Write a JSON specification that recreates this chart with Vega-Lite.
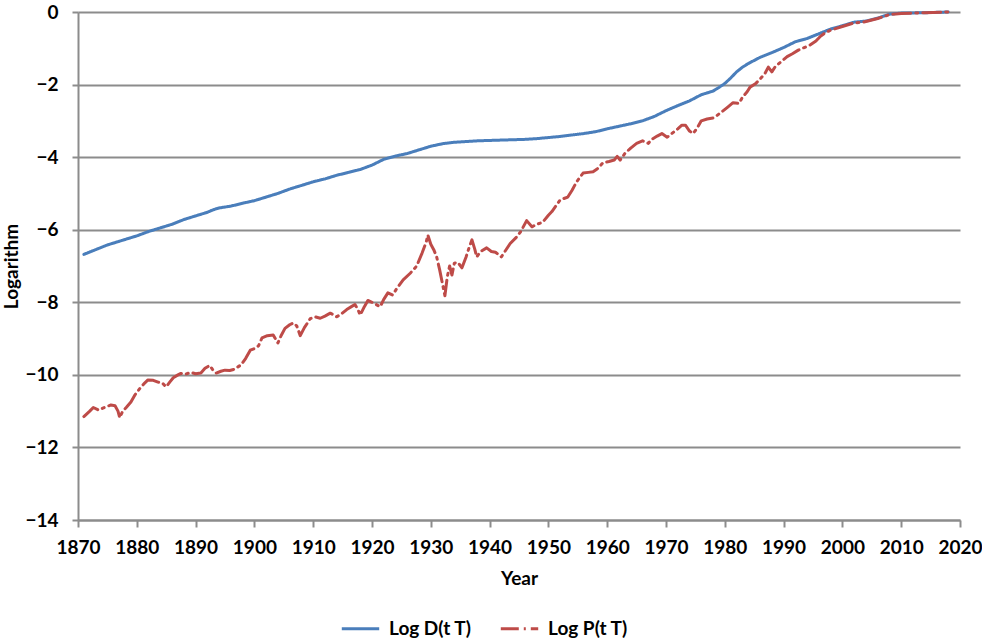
{
  "$schema": "https://vega.github.io/schema/vega-lite/v6.json",
  "width": 882,
  "height": 508,
  "autosize": {"type": "none"},
  "padding": {"left": 78, "top": 12, "right": 22, "bottom": 122},
  "background": "white",
  "config": {
    "view": {"stroke": null},
    "font": "Lato",
    "axis": {
      "labelFont": "Lato", "labelFontWeight": "bold", "labelFontSize": 19, "labelColor": "#000000",
      "titleFont": "Lato", "titleFontWeight": "bold", "titleFontSize": 19, "titleColor": "#000000",
      "domainColor": "#8c8c8c", "domainWidth": 2, "tickColor": "#8c8c8c", "tickWidth": 2,
      "gridColor": "#8c8c8c", "gridWidth": 2
    }
  },
  "datasets": {
    "pts": [
      {"year": 1871, "value": -6.68, "series": "Log D(t T)"},
      {"year": 1873, "value": -6.55, "series": "Log D(t T)"},
      {"year": 1875, "value": -6.42, "series": "Log D(t T)"},
      {"year": 1878, "value": -6.27, "series": "Log D(t T)"},
      {"year": 1880, "value": -6.17, "series": "Log D(t T)"},
      {"year": 1882, "value": -6.05, "series": "Log D(t T)"},
      {"year": 1884, "value": -5.95, "series": "Log D(t T)"},
      {"year": 1886, "value": -5.85, "series": "Log D(t T)"},
      {"year": 1888, "value": -5.72, "series": "Log D(t T)"},
      {"year": 1890, "value": -5.62, "series": "Log D(t T)"},
      {"year": 1892, "value": -5.52, "series": "Log D(t T)"},
      {"year": 1893, "value": -5.45, "series": "Log D(t T)"},
      {"year": 1894, "value": -5.4, "series": "Log D(t T)"},
      {"year": 1896, "value": -5.35, "series": "Log D(t T)"},
      {"year": 1898, "value": -5.27, "series": "Log D(t T)"},
      {"year": 1900, "value": -5.2, "series": "Log D(t T)"},
      {"year": 1902, "value": -5.1, "series": "Log D(t T)"},
      {"year": 1904, "value": -5.0, "series": "Log D(t T)"},
      {"year": 1906, "value": -4.88, "series": "Log D(t T)"},
      {"year": 1908, "value": -4.78, "series": "Log D(t T)"},
      {"year": 1910, "value": -4.68, "series": "Log D(t T)"},
      {"year": 1912, "value": -4.6, "series": "Log D(t T)"},
      {"year": 1914, "value": -4.5, "series": "Log D(t T)"},
      {"year": 1916, "value": -4.42, "series": "Log D(t T)"},
      {"year": 1918, "value": -4.34, "series": "Log D(t T)"},
      {"year": 1920, "value": -4.22, "series": "Log D(t T)"},
      {"year": 1922, "value": -4.06, "series": "Log D(t T)"},
      {"year": 1924, "value": -3.97, "series": "Log D(t T)"},
      {"year": 1926, "value": -3.9, "series": "Log D(t T)"},
      {"year": 1928, "value": -3.8, "series": "Log D(t T)"},
      {"year": 1930, "value": -3.7, "series": "Log D(t T)"},
      {"year": 1932, "value": -3.63, "series": "Log D(t T)"},
      {"year": 1934, "value": -3.59, "series": "Log D(t T)"},
      {"year": 1936, "value": -3.57, "series": "Log D(t T)"},
      {"year": 1938, "value": -3.55, "series": "Log D(t T)"},
      {"year": 1940, "value": -3.54, "series": "Log D(t T)"},
      {"year": 1942, "value": -3.53, "series": "Log D(t T)"},
      {"year": 1944, "value": -3.52, "series": "Log D(t T)"},
      {"year": 1946, "value": -3.51, "series": "Log D(t T)"},
      {"year": 1948, "value": -3.49, "series": "Log D(t T)"},
      {"year": 1950, "value": -3.46, "series": "Log D(t T)"},
      {"year": 1952, "value": -3.43, "series": "Log D(t T)"},
      {"year": 1954, "value": -3.39, "series": "Log D(t T)"},
      {"year": 1956, "value": -3.35, "series": "Log D(t T)"},
      {"year": 1958, "value": -3.3, "series": "Log D(t T)"},
      {"year": 1960, "value": -3.22, "series": "Log D(t T)"},
      {"year": 1962, "value": -3.15, "series": "Log D(t T)"},
      {"year": 1964, "value": -3.08, "series": "Log D(t T)"},
      {"year": 1966, "value": -3.0, "series": "Log D(t T)"},
      {"year": 1968, "value": -2.88, "series": "Log D(t T)"},
      {"year": 1970, "value": -2.72, "series": "Log D(t T)"},
      {"year": 1972, "value": -2.58, "series": "Log D(t T)"},
      {"year": 1974, "value": -2.45, "series": "Log D(t T)"},
      {"year": 1976, "value": -2.28, "series": "Log D(t T)"},
      {"year": 1978, "value": -2.18, "series": "Log D(t T)"},
      {"year": 1979, "value": -2.08, "series": "Log D(t T)"},
      {"year": 1980, "value": -1.97, "series": "Log D(t T)"},
      {"year": 1981, "value": -1.82, "series": "Log D(t T)"},
      {"year": 1982, "value": -1.65, "series": "Log D(t T)"},
      {"year": 1983, "value": -1.52, "series": "Log D(t T)"},
      {"year": 1984, "value": -1.42, "series": "Log D(t T)"},
      {"year": 1986, "value": -1.25, "series": "Log D(t T)"},
      {"year": 1988, "value": -1.12, "series": "Log D(t T)"},
      {"year": 1990, "value": -0.98, "series": "Log D(t T)"},
      {"year": 1992, "value": -0.82, "series": "Log D(t T)"},
      {"year": 1994, "value": -0.73, "series": "Log D(t T)"},
      {"year": 1996, "value": -0.6, "series": "Log D(t T)"},
      {"year": 1998, "value": -0.47, "series": "Log D(t T)"},
      {"year": 2000, "value": -0.38, "series": "Log D(t T)"},
      {"year": 2002, "value": -0.28, "series": "Log D(t T)"},
      {"year": 2004, "value": -0.25, "series": "Log D(t T)"},
      {"year": 2006, "value": -0.17, "series": "Log D(t T)"},
      {"year": 2008, "value": -0.06, "series": "Log D(t T)"},
      {"year": 2010, "value": -0.03, "series": "Log D(t T)"},
      {"year": 2014, "value": -0.02, "series": "Log D(t T)"},
      {"year": 2018, "value": 0, "series": "Log D(t T)"},

      {"year": 1871, "value": -11.15, "series": "Log P(t T)"},
      {"year": 1872, "value": -11.0, "series": "Log P(t T)"},
      {"year": 1872.6, "value": -10.9, "series": "Log P(t T)"},
      {"year": 1873.5, "value": -10.97, "series": "Log P(t T)"},
      {"year": 1874.5, "value": -10.9, "series": "Log P(t T)"},
      {"year": 1875.6, "value": -10.83, "series": "Log P(t T)"},
      {"year": 1876.3, "value": -10.85, "series": "Log P(t T)"},
      {"year": 1876.8, "value": -11.0, "series": "Log P(t T)"},
      {"year": 1877.1, "value": -11.18, "series": "Log P(t T)"},
      {"year": 1877.6, "value": -11.0, "series": "Log P(t T)"},
      {"year": 1878.2, "value": -10.9, "series": "Log P(t T)"},
      {"year": 1879, "value": -10.75, "series": "Log P(t T)"},
      {"year": 1879.7, "value": -10.55, "series": "Log P(t T)"},
      {"year": 1880.5, "value": -10.38, "series": "Log P(t T)"},
      {"year": 1881.2, "value": -10.25, "series": "Log P(t T)"},
      {"year": 1881.9, "value": -10.14, "series": "Log P(t T)"},
      {"year": 1882.8, "value": -10.15, "series": "Log P(t T)"},
      {"year": 1883.6, "value": -10.2, "series": "Log P(t T)"},
      {"year": 1884.3, "value": -10.22, "series": "Log P(t T)"},
      {"year": 1885, "value": -10.33, "series": "Log P(t T)"},
      {"year": 1885.6, "value": -10.2, "series": "Log P(t T)"},
      {"year": 1886.2, "value": -10.08, "series": "Log P(t T)"},
      {"year": 1887, "value": -10.0, "series": "Log P(t T)"},
      {"year": 1887.5, "value": -9.96, "series": "Log P(t T)"},
      {"year": 1888.3, "value": -9.98, "series": "Log P(t T)"},
      {"year": 1889.2, "value": -9.93, "series": "Log P(t T)"},
      {"year": 1890, "value": -9.97, "series": "Log P(t T)"},
      {"year": 1890.9, "value": -9.95, "series": "Log P(t T)"},
      {"year": 1891.6, "value": -9.82, "series": "Log P(t T)"},
      {"year": 1892.4, "value": -9.74, "series": "Log P(t T)"},
      {"year": 1893, "value": -9.88, "series": "Log P(t T)"},
      {"year": 1893.5, "value": -9.95, "series": "Log P(t T)"},
      {"year": 1894.3, "value": -9.9, "series": "Log P(t T)"},
      {"year": 1895, "value": -9.87, "series": "Log P(t T)"},
      {"year": 1895.8, "value": -9.88, "series": "Log P(t T)"},
      {"year": 1896.7, "value": -9.84, "series": "Log P(t T)"},
      {"year": 1897.2, "value": -9.78, "series": "Log P(t T)"},
      {"year": 1897.7, "value": -9.73, "series": "Log P(t T)"},
      {"year": 1898.5, "value": -9.55, "series": "Log P(t T)"},
      {"year": 1899.3, "value": -9.32, "series": "Log P(t T)"},
      {"year": 1900.1, "value": -9.27, "series": "Log P(t T)"},
      {"year": 1900.7, "value": -9.2, "series": "Log P(t T)"},
      {"year": 1901.3, "value": -8.98, "series": "Log P(t T)"},
      {"year": 1902.2, "value": -8.92, "series": "Log P(t T)"},
      {"year": 1903.2, "value": -8.9, "series": "Log P(t T)"},
      {"year": 1904, "value": -9.12, "series": "Log P(t T)"},
      {"year": 1904.6, "value": -8.9, "series": "Log P(t T)"},
      {"year": 1905.2, "value": -8.72, "series": "Log P(t T)"},
      {"year": 1906, "value": -8.62, "series": "Log P(t T)"},
      {"year": 1906.6, "value": -8.57, "series": "Log P(t T)"},
      {"year": 1907.2, "value": -8.65, "series": "Log P(t T)"},
      {"year": 1907.8, "value": -8.92, "series": "Log P(t T)"},
      {"year": 1908.5, "value": -8.7, "series": "Log P(t T)"},
      {"year": 1909.5, "value": -8.45, "series": "Log P(t T)"},
      {"year": 1910.3, "value": -8.4, "series": "Log P(t T)"},
      {"year": 1911.2, "value": -8.44, "series": "Log P(t T)"},
      {"year": 1912, "value": -8.38, "series": "Log P(t T)"},
      {"year": 1912.9, "value": -8.3, "series": "Log P(t T)"},
      {"year": 1913.5, "value": -8.35, "series": "Log P(t T)"},
      {"year": 1914, "value": -8.4, "series": "Log P(t T)"},
      {"year": 1914.8, "value": -8.32, "series": "Log P(t T)"},
      {"year": 1915.7, "value": -8.2, "series": "Log P(t T)"},
      {"year": 1916.5, "value": -8.12, "series": "Log P(t T)"},
      {"year": 1917.1, "value": -8.06, "series": "Log P(t T)"},
      {"year": 1917.6, "value": -8.2, "series": "Log P(t T)"},
      {"year": 1918, "value": -8.35, "series": "Log P(t T)"},
      {"year": 1918.7, "value": -8.12, "series": "Log P(t T)"},
      {"year": 1919.3, "value": -7.95, "series": "Log P(t T)"},
      {"year": 1920, "value": -8.0, "series": "Log P(t T)"},
      {"year": 1920.8, "value": -8.07, "series": "Log P(t T)"},
      {"year": 1921.4, "value": -8.12, "series": "Log P(t T)"},
      {"year": 1922, "value": -7.92, "series": "Log P(t T)"},
      {"year": 1922.7, "value": -7.74, "series": "Log P(t T)"},
      {"year": 1923.5, "value": -7.8, "series": "Log P(t T)"},
      {"year": 1924.3, "value": -7.6, "series": "Log P(t T)"},
      {"year": 1925.3, "value": -7.38, "series": "Log P(t T)"},
      {"year": 1926.5, "value": -7.2, "series": "Log P(t T)"},
      {"year": 1927.6, "value": -7.0, "series": "Log P(t T)"},
      {"year": 1928.5, "value": -6.65, "series": "Log P(t T)"},
      {"year": 1929.2, "value": -6.35, "series": "Log P(t T)"},
      {"year": 1929.5, "value": -6.15, "series": "Log P(t T)"},
      {"year": 1930, "value": -6.4, "series": "Log P(t T)"},
      {"year": 1930.5, "value": -6.55, "series": "Log P(t T)"},
      {"year": 1931, "value": -6.75, "series": "Log P(t T)"},
      {"year": 1931.5, "value": -7.1, "series": "Log P(t T)"},
      {"year": 1932, "value": -7.5, "series": "Log P(t T)"},
      {"year": 1932.4, "value": -7.82, "series": "Log P(t T)"},
      {"year": 1932.8, "value": -7.3, "series": "Log P(t T)"},
      {"year": 1933.2, "value": -7.0, "series": "Log P(t T)"},
      {"year": 1933.6, "value": -7.25, "series": "Log P(t T)"},
      {"year": 1934, "value": -6.92, "series": "Log P(t T)"},
      {"year": 1934.6, "value": -6.9, "series": "Log P(t T)"},
      {"year": 1935.3, "value": -7.05, "series": "Log P(t T)"},
      {"year": 1936, "value": -6.75, "series": "Log P(t T)"},
      {"year": 1936.5, "value": -6.5, "series": "Log P(t T)"},
      {"year": 1937, "value": -6.28, "series": "Log P(t T)"},
      {"year": 1937.5, "value": -6.55, "series": "Log P(t T)"},
      {"year": 1937.8, "value": -6.75, "series": "Log P(t T)"},
      {"year": 1938.5, "value": -6.6, "series": "Log P(t T)"},
      {"year": 1939.5, "value": -6.5, "series": "Log P(t T)"},
      {"year": 1940.3, "value": -6.6, "series": "Log P(t T)"},
      {"year": 1941, "value": -6.62, "series": "Log P(t T)"},
      {"year": 1942, "value": -6.75, "series": "Log P(t T)"},
      {"year": 1942.6, "value": -6.6, "series": "Log P(t T)"},
      {"year": 1943.5, "value": -6.38, "series": "Log P(t T)"},
      {"year": 1944.6, "value": -6.2, "series": "Log P(t T)"},
      {"year": 1945.3, "value": -6.05, "series": "Log P(t T)"},
      {"year": 1946.3, "value": -5.75, "series": "Log P(t T)"},
      {"year": 1947.2, "value": -5.92, "series": "Log P(t T)"},
      {"year": 1948, "value": -5.85, "series": "Log P(t T)"},
      {"year": 1949, "value": -5.8, "series": "Log P(t T)"},
      {"year": 1950, "value": -5.6, "series": "Log P(t T)"},
      {"year": 1950.6, "value": -5.5, "series": "Log P(t T)"},
      {"year": 1952, "value": -5.18, "series": "Log P(t T)"},
      {"year": 1953.3, "value": -5.1, "series": "Log P(t T)"},
      {"year": 1954, "value": -4.92, "series": "Log P(t T)"},
      {"year": 1954.8, "value": -4.68, "series": "Log P(t T)"},
      {"year": 1955.9, "value": -4.44, "series": "Log P(t T)"},
      {"year": 1956.8, "value": -4.42, "series": "Log P(t T)"},
      {"year": 1957.6, "value": -4.4, "series": "Log P(t T)"},
      {"year": 1958.5, "value": -4.3, "series": "Log P(t T)"},
      {"year": 1959.3, "value": -4.15, "series": "Log P(t T)"},
      {"year": 1960.3, "value": -4.12, "series": "Log P(t T)"},
      {"year": 1961.2, "value": -4.08, "series": "Log P(t T)"},
      {"year": 1961.7, "value": -3.98, "series": "Log P(t T)"},
      {"year": 1962.2, "value": -4.08, "series": "Log P(t T)"},
      {"year": 1963, "value": -3.9, "series": "Log P(t T)"},
      {"year": 1964, "value": -3.75, "series": "Log P(t T)"},
      {"year": 1965, "value": -3.62, "series": "Log P(t T)"},
      {"year": 1966, "value": -3.55, "series": "Log P(t T)"},
      {"year": 1967, "value": -3.62, "series": "Log P(t T)"},
      {"year": 1967.5, "value": -3.52, "series": "Log P(t T)"},
      {"year": 1968.5, "value": -3.42, "series": "Log P(t T)"},
      {"year": 1969.3, "value": -3.35, "series": "Log P(t T)"},
      {"year": 1970.2, "value": -3.45, "series": "Log P(t T)"},
      {"year": 1971, "value": -3.35, "series": "Log P(t T)"},
      {"year": 1972, "value": -3.22, "series": "Log P(t T)"},
      {"year": 1972.7, "value": -3.12, "series": "Log P(t T)"},
      {"year": 1973.3, "value": -3.12, "series": "Log P(t T)"},
      {"year": 1974, "value": -3.28, "series": "Log P(t T)"},
      {"year": 1974.6, "value": -3.35, "series": "Log P(t T)"},
      {"year": 1975.3, "value": -3.2, "series": "Log P(t T)"},
      {"year": 1976, "value": -3.0, "series": "Log P(t T)"},
      {"year": 1977, "value": -2.95, "series": "Log P(t T)"},
      {"year": 1978, "value": -2.92, "series": "Log P(t T)"},
      {"year": 1978.7, "value": -2.85, "series": "Log P(t T)"},
      {"year": 1979.5, "value": -2.75, "series": "Log P(t T)"},
      {"year": 1980.5, "value": -2.62, "series": "Log P(t T)"},
      {"year": 1981.4, "value": -2.5, "series": "Log P(t T)"},
      {"year": 1982.4, "value": -2.52, "series": "Log P(t T)"},
      {"year": 1983, "value": -2.35, "series": "Log P(t T)"},
      {"year": 1983.8, "value": -2.2, "series": "Log P(t T)"},
      {"year": 1984.3, "value": -2.07, "series": "Log P(t T)"},
      {"year": 1985.2, "value": -1.98, "series": "Log P(t T)"},
      {"year": 1986, "value": -1.85, "series": "Log P(t T)"},
      {"year": 1986.8, "value": -1.7, "series": "Log P(t T)"},
      {"year": 1987.4, "value": -1.52, "series": "Log P(t T)"},
      {"year": 1988, "value": -1.65, "series": "Log P(t T)"},
      {"year": 1988.6, "value": -1.5, "series": "Log P(t T)"},
      {"year": 1989.5, "value": -1.38, "series": "Log P(t T)"},
      {"year": 1990.6, "value": -1.23, "series": "Log P(t T)"},
      {"year": 1991.5, "value": -1.15, "series": "Log P(t T)"},
      {"year": 1992.5, "value": -1.05, "series": "Log P(t T)"},
      {"year": 1993.5, "value": -0.98, "series": "Log P(t T)"},
      {"year": 1994.5, "value": -0.91, "series": "Log P(t T)"},
      {"year": 1995.5, "value": -0.8, "series": "Log P(t T)"},
      {"year": 1996.2, "value": -0.68, "series": "Log P(t T)"},
      {"year": 1997, "value": -0.58, "series": "Log P(t T)"},
      {"year": 1998, "value": -0.5, "series": "Log P(t T)"},
      {"year": 2000, "value": -0.4, "series": "Log P(t T)"},
      {"year": 2002, "value": -0.3, "series": "Log P(t T)"},
      {"year": 2003.5, "value": -0.28, "series": "Log P(t T)"},
      {"year": 2004.5, "value": -0.24, "series": "Log P(t T)"},
      {"year": 2006, "value": -0.18, "series": "Log P(t T)"},
      {"year": 2008, "value": -0.07, "series": "Log P(t T)"},
      {"year": 2010, "value": -0.04, "series": "Log P(t T)"},
      {"year": 2014, "value": -0.02, "series": "Log P(t T)"},
      {"year": 2018, "value": 0, "series": "Log P(t T)"}
    ]
  },
  "data": {"name": "pts"},
  "mark": {"type": "line", "strokeWidth": 3, "strokeCap": "round", "strokeJoin": "round"},
  "encoding": {
    "x": {
      "field": "year", "type": "quantitative",
      "scale": {"domain": [1870, 2020], "nice": false, "zero": false},
      "axis": {
        "title": "Year", "values": [1870, 1880, 1890, 1900, 1910, 1920, 1930, 1940, 1950, 1960, 1970, 1980, 1990, 2000, 2010, 2020],
        "format": "d", "grid": false, "tickSize": 7, "labelPadding": 11, "titlePadding": 12,
        "labelFlush": false, "labelOverlap": false
      }
    },
    "y": {
      "field": "value", "type": "quantitative",
      "scale": {"domain": [-14, 0], "nice": false},
      "axis": {
        "title": "Logarithm", "values": [-14, -12, -10, -8, -6, -4, -2, 0],
        "grid": true, "tickSize": 6, "labelPadding": 14, "titlePadding": 3,
        "labelFlush": false, "labelOverlap": false
      }
    },
    "color": {
      "field": "series", "type": "nominal",
      "scale": {"domain": ["Log D(t T)", "Log P(t T)"], "range": ["#4A7EBB", "#BE4B48"]},
      "legend": {
        "title": null, "orient": "none", "legendX": 262, "legendY": 596, "direction": "horizontal",
        "labelFont": "Lato", "labelFontWeight": "bold", "labelFontSize": 19, "labelColor": "#000000",
        "symbolType": "stroke", "symbolSize": 1400, "symbolStrokeWidth": 3, "labelOffset": 8, "columnPadding": 22
      }
    },
    "strokeDash": {
      "field": "series", "type": "nominal",
      "scale": {"domain": ["Log D(t T)", "Log P(t T)"], "range": [[1, 0], [18, 5, 2, 5]]},
      "legend": null
    }
  }
}
